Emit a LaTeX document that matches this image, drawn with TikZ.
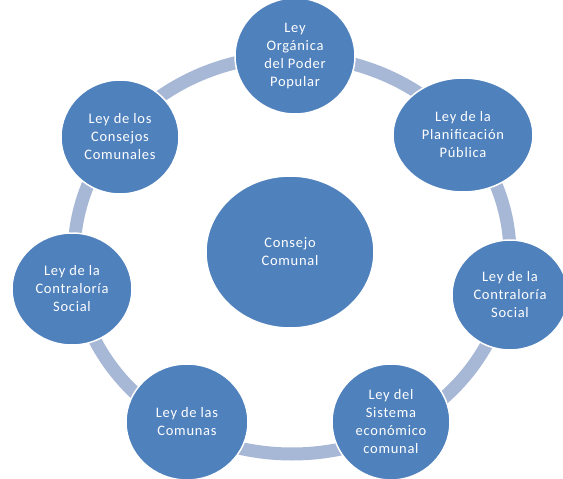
\documentclass[tikz,border=0pt]{standalone}
\usepackage{fontspec}
\setmainfont{Carlito}[LetterSpace=5]
\usetikzlibrary{shapes.geometric}
\definecolor{lawblue}{RGB}{79,129,189}
\definecolor{ringblue}{RGB}{167,183,214}

\begin{document}
\begin{tikzpicture}
[x=1pt,y=-1pt,every node/.style={ellipse,fill=lawblue,draw=white,line width=1.5pt,text=white,align=center,inner sep=0pt,font=\fontsize{14.5}{18}\selectfont}]
\useasboundingbox (0,0) rectangle (563,479);
\draw[ringblue,line width=13pt] (292,255) ellipse [x radius=218pt,y radius=199pt];
\node[minimum width=168pt,minimum height=152pt] (n0) at (290,252) {Consejo\\Comunal};
\node[minimum width=120pt,minimum height=116pt] (n1) at (295,56) {Ley\\Orgánica\\del Poder\\Popular};
\node[minimum width=140pt,minimum height=114pt] (n2) at (463,135) {Ley de la\\Planificación\\Pública};
\node[minimum width=116pt,minimum height=110pt] (n3) at (510,295) {Ley de la\\Contraloría\\Social};
\node[minimum width=118pt,minimum height=116pt] (n4) at (391,422) {Ley del\\Sistema\\económico\\comunal};
\node[minimum width=122pt,minimum height=116pt] (n5) at (187,422) {Ley de las\\Comunas};
\node[minimum width=120pt,minimum height=112pt] (n6) at (72,289) {Ley de la\\Contraloría\\Social};
\node[minimum width=118pt,minimum height=114pt] (n7) at (120,137) {Ley de los\\Consejos\\Comunales};
\end{tikzpicture}
\end{document}
